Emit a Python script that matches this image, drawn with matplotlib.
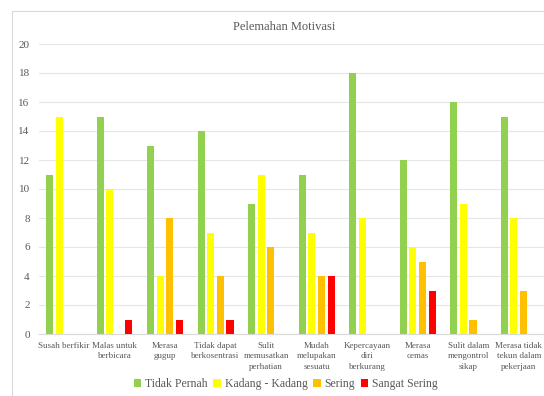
import numpy as np
import matplotlib.pyplot as plt
from matplotlib.patches import Rectangle

categories = [
    "Susah berfikir",
    "Malas untuk\nberbicara",
    "Merasa\ngugup",
    "Tidak dapat\nberkosentrasi",
    "Sulit\nmemusatkan\nperhatian",
    "Mudah\nmelupakan\nsesuatu",
    "Kepercayaan\ndiri\nberkurang",
    "Merasa\ncemas",
    "Sulit dalam\nmengontrol\nsikap",
    "Merasa tidak\ntekun dalam\npekerjaan",
]
tidak_pernah = [11, 15, 13, 14, 9, 11, 18, 12, 16, 15]
kadang = [15, 10, 4, 7, 11, 7, 8, 6, 9, 8]
sering = [0, 0, 8, 4, 6, 4, 0, 5, 1, 3]
sangat_sering = [0, 1, 1, 1, 0, 4, 0, 3, 0, 0]

series_names = ["Tidak Pernah", "Kadang - Kadang", "Sering", "Sangat Sering"]
series_colors = ["#92D050", "#FFFF00", "#FFC000", "#FF0000"]
series_values = [tidak_pernah, kadang, sering, sangat_sering]

plt.rcParams["font.family"] = ["Liberation Serif", "DejaVu Serif"]
text_color = "#595959"

W, H = 544, 396
fig = plt.figure(figsize=(W / 100, H / 100), dpi=100)

# outer chart frame, running off the right and bottom edges
fig.patches.append(Rectangle((12 / W, -0.05), 1.0, 1 - 11 / H + 0.05,
                             transform=fig.transFigure, fill=False,
                             edgecolor="#D9D9D9", linewidth=0.8))

ax = fig.add_axes([38.75 / W, (H - 334) / H, 1 - 38.75 / W, (334 - 44) / H])

x = np.arange(len(categories))
pitch, width = 0.19, 0.14
for k, (name, color, vals) in enumerate(zip(series_names, series_colors, series_values)):
    ax.bar(x + (k - 1.5) * pitch, vals, width=width, color=color, label=name, zorder=3)

ax.set_xlim(-0.5, len(categories) - 0.5)
ax.set_ylim(0, 20)
ax.set_yticks(range(0, 21, 2))
ax.set_xticks(x)
ax.set_xticklabels(categories, fontsize=6.5, color=text_color, linespacing=1.35)
ax.tick_params(axis="both", length=0, colors=text_color)
ax.tick_params(axis="y", pad=6.5, labelsize=8)
ax.tick_params(axis="x", pad=6)
ax.grid(axis="y", color="#E6E6E6", linewidth=0.8, zorder=0)
for side in ["top", "right", "left"]:
    ax.spines[side].set_visible(False)
ax.spines["bottom"].set_color("#D9D9D9")

fig.text(284 / W, 1 - 27 / H, "Pelemahan Motivasi", ha="center", va="center",
         fontsize=9, color=text_color)

fig.legend(loc="center", bbox_to_anchor=(286 / W, 1 - 384 / H), ncol=4,
           frameon=False, fontsize=8.5, handlelength=0.6, handleheight=0.6,
           handletextpad=0.35, columnspacing=0.5, labelcolor=text_color)

fig.savefig("out.png", dpi=100)
